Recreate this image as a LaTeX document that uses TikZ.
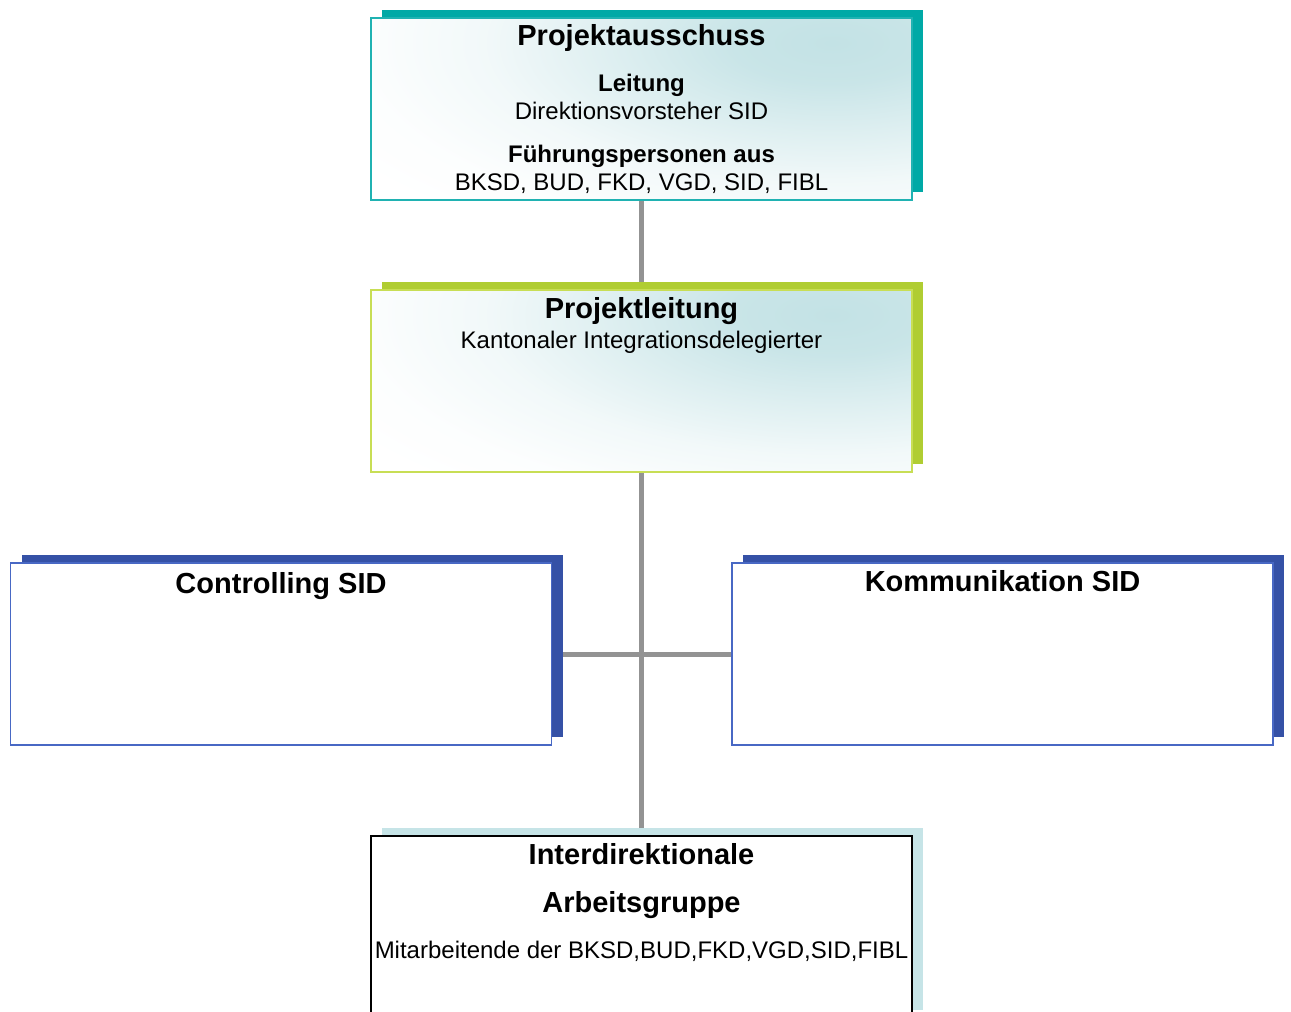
\documentclass[tikz,border=0pt]{standalone}
\usepackage{fontspec}
\setmainfont{Liberation Sans}
\usetikzlibrary{shadows,backgrounds}
\definecolor{tealsh}{HTML}{00A9A6}
\definecolor{tealbd}{HTML}{20B2B2}
\definecolor{greensh}{HTML}{B0CD32}
\definecolor{greenbd}{HTML}{C8DE55}
\definecolor{bluesh}{HTML}{3551A6}
\definecolor{bluebd}{HTML}{4868C4}
\definecolor{cyansh}{HTML}{C6E4E7}
\definecolor{gradc}{HTML}{C3E2E5}
\definecolor{connc}{HTML}{939393}
\pgfdeclareradialshading{boxglow}{\pgfpointorigin}{color(0bp)=(gradc); color(4bp)=(gradc!90!white); color(9bp)=(gradc!55!white); color(14bp)=(gradc!22!white); color(19bp)=(gradc!5!white); color(23bp)=(white); color(50bp)=(white)}
\begin{document}
\begin{tikzpicture}[x=1pt,y=-1pt,
 box/.style={rectangle, minimum width=541pt, minimum height=182pt, inner sep=0pt, line width=1.8pt, fill=white},
 grad/.style={path picture={\shade[shading=boxglow] ([xshift=-80pt,yshift=-25pt]path picture bounding box.north east) ellipse [x radius=620pt, y radius=250pt];}},
 shd/.style={general shadow={fill=#1, shadow xshift=11pt, shadow yshift=8pt}},
 ttl/.style={anchor=base, font=\fontsize{29}{34}\selectfont\bfseries},
 sub/.style={anchor=base, font=\fontsize{24}{28}\selectfont},
 subb/.style={anchor=base, font=\fontsize{24}{28}\selectfont\bfseries},
 conn/.style={draw=connc, line width=5pt}
]
\useasboundingbox (0,0) rectangle (1291,1012);
\clip (0,0) rectangle (1291,1012);

\node[box, shd=tealsh, draw=tealbd, grad] (pa) at (641.5,109) {};
\node[box, shd=greensh, draw=greenbd, grad] (pl) at (641.5,381) {};
\node[box, shd=bluesh, draw=bluebd] (ct) at (281,654) {};
\node[box, shd=bluesh, draw=bluebd] (km) at (1002.5,654) {};
\node[box, shd=cyansh, draw=black] (ag) at (641.5,927) {};

\begin{scope}[on background layer]
\draw[conn] (pa.south) -- (pl.north);
\draw[conn] (pl.south) -- (ag.north);
\draw[conn] (ct.east) -- (km.west);
\end{scope}

\node[ttl] (t1) at (641.5,45) {Projektausschuss};
\node[subb] (t2) at (641.5,91) {Leitung};
\node[sub] (t3) at (641.5,119) {Direktionsvorsteher SID};
\node[subb] (t4) at (641.5,162) {Führungspersonen aus};
\node[sub] (t5) at (641.5,190) {BKSD, BUD, FKD, VGD, SID, FIBL};

\node[ttl] (t6) at (641.5,318) {Projektleitung};
\node[sub] (t7) at (641.5,348) {Kantonaler Integrationsdelegierter};

\node[ttl] (t8) at (281,593) {Controlling SID};
\node[ttl] (t9) at (1002.5,591) {Kommunikation SID};

\node[ttl] (t10) at (641.5,864) {Interdirektionale};
\node[ttl] (t11) at (641.5,912) {Arbeitsgruppe};
\node[sub] (t12) at (641.5,958) {Mitarbeitende der BKSD,BUD,FKD,VGD,SID,FIBL};
\end{tikzpicture}
\end{document}
